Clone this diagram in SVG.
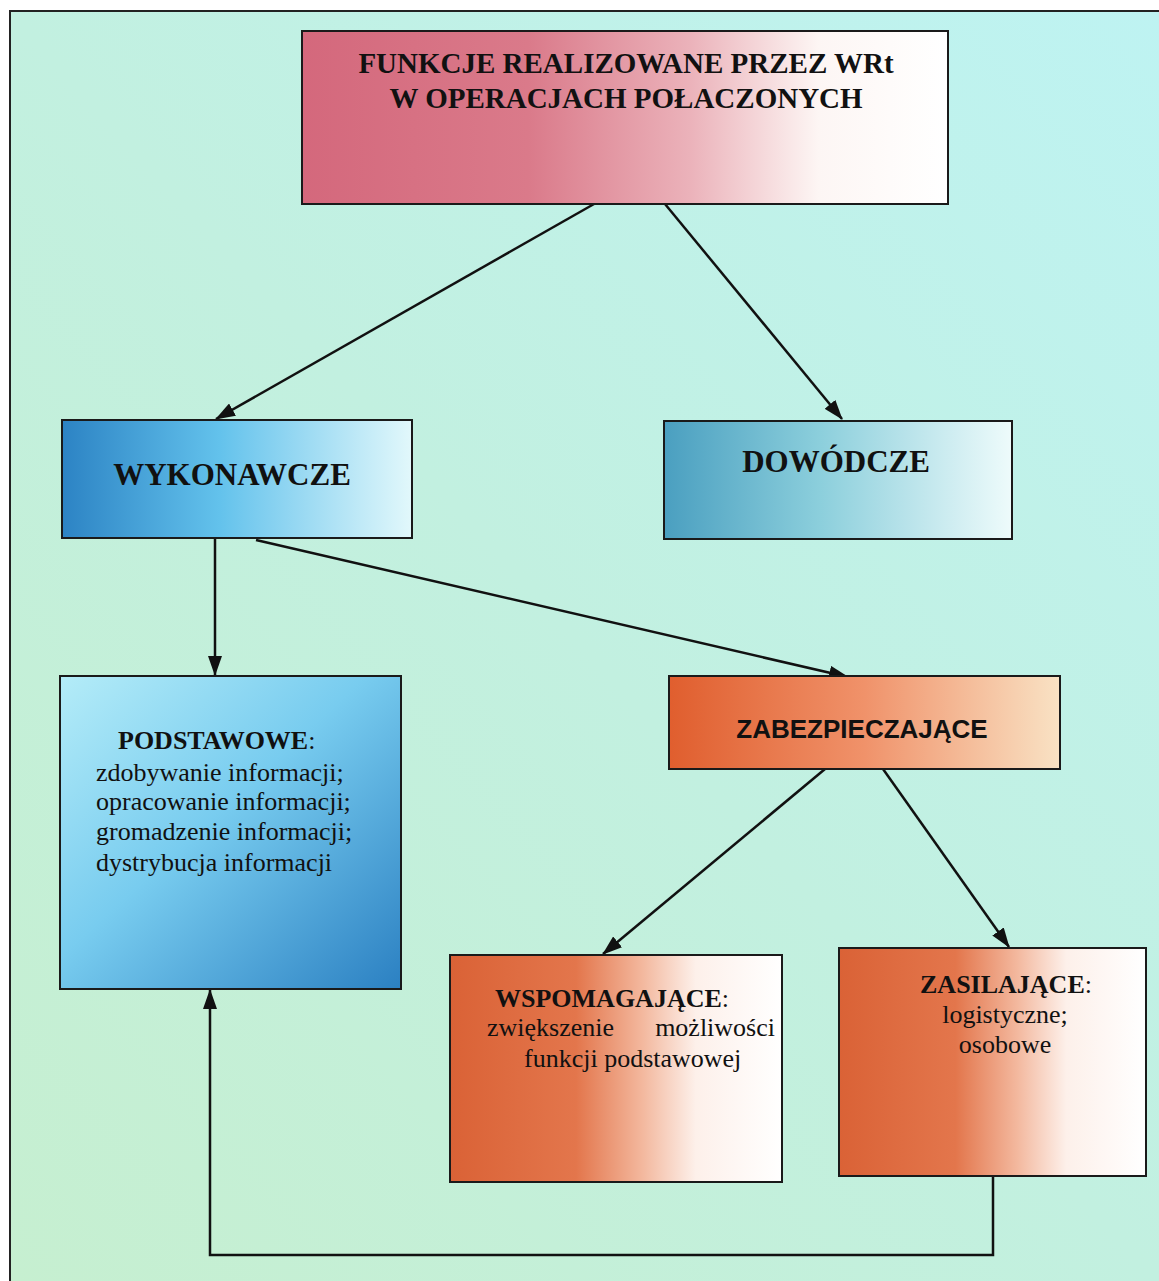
<svg xmlns="http://www.w3.org/2000/svg" width="1159" height="1281" viewBox="0 0 1159 1281">
<style>
.box{stroke:#1a1a1a;stroke-width:2}
.t{font-family:"Liberation Serif","Times New Roman",serif;fill:#111}
.b{font-weight:bold}
.s{font-family:"Liberation Sans",Arial,sans-serif;font-weight:bold;fill:#111}
.c{fill:none;stroke:#111;stroke-width:2.5}
</style>
<defs>
<linearGradient id="bg" x1="0" y1="1" x2="1" y2="0">
<stop offset="0" stop-color="#c6efd0"/>
<stop offset="0.5" stop-color="#c2f0e0"/>
<stop offset="1" stop-color="#bef3f2"/>
</linearGradient>
<linearGradient id="gPink" x1="0" y1="0" x2="1" y2="0">
<stop offset="0" stop-color="#d4687c"/>
<stop offset="0.35" stop-color="#da7a8a"/>
<stop offset="0.6" stop-color="#ebb2ba"/>
<stop offset="0.8" stop-color="#fdf6f4"/>
<stop offset="1" stop-color="#ffffff"/>
</linearGradient>
<linearGradient id="gWyk" x1="0" y1="0" x2="1" y2="0">
<stop offset="0" stop-color="#2c83c4"/>
<stop offset="0.45" stop-color="#63c2ec"/>
<stop offset="1" stop-color="#e2f8fb"/>
</linearGradient>
<linearGradient id="gPod" x1="0" y1="0" x2="1" y2="1">
<stop offset="0" stop-color="#b4ecf8"/>
<stop offset="0.45" stop-color="#78ccef"/>
<stop offset="1" stop-color="#2b80c2"/>
</linearGradient>
<linearGradient id="gDow" x1="0" y1="0" x2="1" y2="0">
<stop offset="0" stop-color="#4a9fc0"/>
<stop offset="0.45" stop-color="#8ccfdc"/>
<stop offset="1" stop-color="#eefbfb"/>
</linearGradient>
<linearGradient id="gZab" x1="0" y1="0" x2="1" y2="0">
<stop offset="0" stop-color="#e05e2e"/>
<stop offset="0.5" stop-color="#f0926a"/>
<stop offset="1" stop-color="#f9e2c4"/>
</linearGradient>
<linearGradient id="gOr" x1="0" y1="0" x2="1" y2="0">
<stop offset="0" stop-color="#da6236"/>
<stop offset="0.38" stop-color="#e3764c"/>
<stop offset="0.58" stop-color="#f3b89e"/>
<stop offset="0.74" stop-color="#fdf0ea"/>
<stop offset="1" stop-color="#ffffff"/>
</linearGradient>
<marker id="arr" viewBox="0 0 20 14" refX="19" refY="7" markerWidth="20" markerHeight="14" markerUnits="userSpaceOnUse" orient="auto">
<path d="M0,0 L20,7 L0,14 z" fill="#111"/>
</marker>
</defs>

<rect x="0" y="0" width="1159" height="1281" fill="#ffffff"/>
<rect x="10" y="11" width="1149" height="1270" fill="url(#bg)"/>
<path d="M10,1281 V11 H1159" fill="none" stroke="#222" stroke-width="2"/>

<g id="connectors">
<line class="c" x1="594" y1="204" x2="216" y2="419" marker-end="url(#arr)"/>
<line class="c" x1="665" y1="204" x2="842" y2="419" marker-end="url(#arr)"/>
<line class="c" x1="215" y1="538" x2="215" y2="675" marker-end="url(#arr)"/>
<line class="c" x1="256" y1="540" x2="848" y2="677" marker-end="url(#arr)"/>
<line class="c" x1="825" y1="769" x2="603" y2="954" marker-end="url(#arr)"/>
<line class="c" x1="883" y1="769" x2="1009" y2="947" marker-end="url(#arr)"/>
<path class="c" d="M993,1176 V1255 H210 V990" marker-end="url(#arr)"/>
</g>

<g id="node-funkcje">
<rect class="box" x="302" y="31" width="646" height="173" fill="url(#gPink)"/>
<text class="t b" x="626" y="73" font-size="29" text-anchor="middle">FUNKCJE REALIZOWANE PRZEZ WRt</text>
<text class="t b" x="626" y="108" font-size="29" text-anchor="middle">W OPERACJACH POŁACZONYCH</text>
</g>

<g id="node-wykonawcze">
<rect class="box" x="62" y="420" width="350" height="118" fill="url(#gWyk)"/>
<text class="t b" x="232" y="485" font-size="31" text-anchor="middle">WYKONAWCZE</text>
</g>

<g id="node-dowodcze">
<rect class="box" x="664" y="421" width="348" height="118" fill="url(#gDow)"/>
<text class="t b" x="836" y="472" font-size="31" text-anchor="middle">DOWÓDCZE</text>
</g>

<g id="node-podstawowe">
<rect class="box" x="60" y="676" width="341" height="313" fill="url(#gPod)"/>
<text class="t" x="118" y="749" font-size="26"><tspan class="b">PODSTAWOWE</tspan>:</text>
<text class="t" x="96" y="781" font-size="26">zdobywanie informacji;</text>
<text class="t" x="96" y="810" font-size="26">opracowanie informacji;</text>
<text class="t" x="96" y="840" font-size="26">gromadzenie informacji;</text>
<text class="t" x="96" y="871" font-size="26">dystrybucja informacji</text>
</g>

<g id="node-zabezpieczajace">
<rect class="box" x="669" y="676" width="391" height="93" fill="url(#gZab)"/>
<text class="s" x="862" y="738" font-size="26" text-anchor="middle">ZABEZPIECZAJĄCE</text>
</g>

<g id="node-wspomagajace">
<rect class="box" x="450" y="955" width="332" height="227" fill="url(#gOr)"/>
<text class="t" x="495" y="1007" font-size="26"><tspan class="b">WSPOMAGAJĄCE</tspan>:</text>
<text class="t" x="487" y="1036" font-size="26">zwiększenie</text>
<text class="t" x="775" y="1036" font-size="26" text-anchor="end">możliwości</text>
<text class="t" x="524" y="1067" font-size="26">funkcji podstawowej</text>
</g>

<g id="node-zasilajace">
<rect class="box" x="839" y="948" width="307" height="228" fill="url(#gOr)"/>
<text class="t" x="1006" y="993" font-size="26" text-anchor="middle"><tspan class="b">ZASILAJĄCE</tspan>:</text>
<text class="t" x="1005" y="1023" font-size="26" text-anchor="middle">logistyczne;</text>
<text class="t" x="1005" y="1053" font-size="26" text-anchor="middle">osobowe</text>
</g>
</svg>
